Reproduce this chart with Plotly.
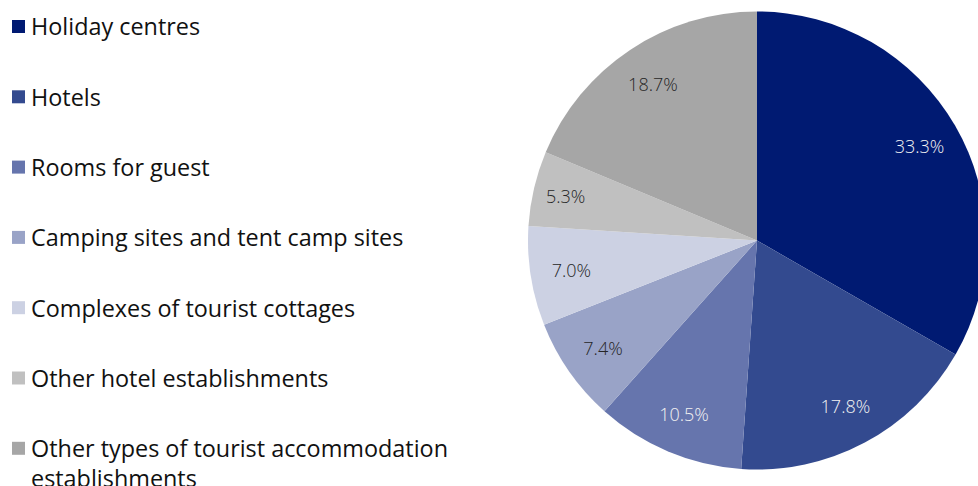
import plotly.graph_objects as go

labels = ["Holiday centres", "Hotels", "Rooms for guest", "Camping sites and tent camp sites",
          "Complexes of tourist cottages", "Other hotel establishments",
          "Other types of tourist accommodation establishments"]
legend_labels = ["Holiday centres", "Hotels", "Rooms for guest", "Camping sites and tent camp sites",
                 "Complexes of tourist cottages", "Other hotel establishments",
                 "Other types of tourist accommodation<br>establishments"]
values = [33.3, 17.8, 10.5, 7.4, 7.0, 5.3, 18.7]
colors = ["#001A72", "#334A8F", "#6675AD", "#99A3C7", "#CCD1E3", "#C0C0C0", "#A6A6A6"]
text_colors = ["#F2F2F2", "#F2F2F2", "#F2F2F2", "#262626", "#262626", "#262626", "#262626"]

W, H = 990, 486
cx, cy, r = 757, 240.5, 229
dom = dict(x=[(cx - r) / W, (cx + r) / W], y=[1 - (cy + r) / H, 1 - (cy - r) / H])

fig = go.Figure()
fig.add_trace(go.Pie(
    labels=labels, values=values, sort=False, direction="clockwise", rotation=0,
    marker=dict(colors=colors, line=dict(width=0)),
    textinfo="none", showlegend=False, hoverinfo="label+percent", domain=dom,
))
# transparent ring overlay used only to place the percentage labels
fig.add_trace(go.Pie(
    labels=labels, values=values, sort=False, direction="clockwise", rotation=0, hole=0.64,
    marker=dict(colors=["rgba(0,0,0,0)"] * len(values), line=dict(width=0)),
    textinfo="percent", texttemplate="%{percent:.1%}",
    textposition="inside", insidetextorientation="horizontal",
    textfont=dict(family="Open Sans", size=18, color=text_colors, weight=300),
    showlegend=False, hoverinfo="skip", domain=dom,
))

shapes, annotations = [], []
row0, gap = 26.5, 70.3
font = dict(family="Open Sans", size=23.4, color="#111111")
for i, (lab, col) in enumerate(zip(legend_labels, colors)):
    yc = row0 + i * gap
    shapes.append(dict(type="rect", xref="paper", yref="paper",
                       x0=12 / W, x1=25 / W, y0=1 - (yc + 6.5) / H, y1=1 - (yc - 6.5) / H,
                       fillcolor=col, line=dict(width=0)))
    nlines = lab.count("<br>") + 1
    ytxt = yc + (nlines - 1) * 14.5
    annotations.append(dict(x=29 / W, y=1 - ytxt / H, xref="paper", yref="paper",
                            xanchor="left", yanchor="middle", align="left",
                            text=lab, showarrow=False, font=font))

fig.update_layout(width=W, height=H, margin=dict(l=0, r=0, t=0, b=0),
                  paper_bgcolor="white", plot_bgcolor="white",
                  uniformtext=dict(minsize=18, mode="show"),
                  shapes=shapes, annotations=annotations)
fig.write_html("out.html", config={"displayModeBar": False},
               post_script="document.body.style.margin='0';document.body.style.overflow='hidden';")
